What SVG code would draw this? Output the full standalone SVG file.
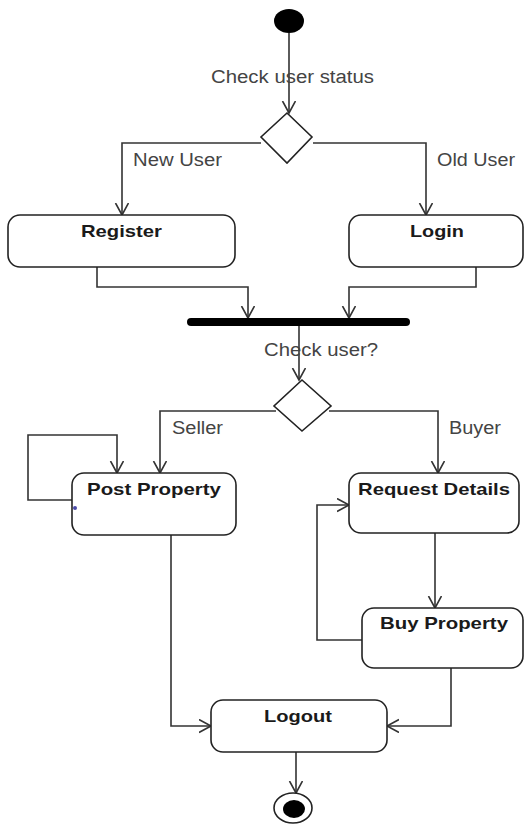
<svg xmlns="http://www.w3.org/2000/svg" width="528" height="825" viewBox="0 0 528 825">
<style>
.box{fill:#fff;stroke:#222;stroke-width:1.6}
.ln{fill:none;stroke:#333;stroke-width:1.6}
.lbl{font-family:"Liberation Sans",Arial,sans-serif;font-size:18px;fill:#444}
.nm{font-family:"Liberation Sans",Arial,sans-serif;font-size:17px;font-weight:bold;fill:#1a1a1a}
</style>
<defs>
<marker id="arr" markerUnits="userSpaceOnUse" markerWidth="16" markerHeight="16" refX="12" refY="7" orient="auto">
<path d="M0,0.5 L12,7 L0,13.5" fill="none" stroke="#333" stroke-width="1.6"/>
</marker>
</defs>
<rect width="528" height="825" fill="#fff"/>
<g id="connectors">
<path class="ln" d="M289,33 V113" marker-end="url(#arr)"/>
<path class="ln" d="M261,143 H122 V215" marker-end="url(#arr)"/>
<path class="ln" d="M313,143 H426 V215" marker-end="url(#arr)"/>
<path class="ln" d="M97,267 V287 H248 V318" marker-end="url(#arr)"/>
<path class="ln" d="M476,267 V287 H349 V318" marker-end="url(#arr)"/>
<path class="ln" d="M299,326 V380" marker-end="url(#arr)"/>
<path class="ln" d="M276,411 H160 V473" marker-end="url(#arr)"/>
<path class="ln" d="M329,411 H438 V473" marker-end="url(#arr)"/>
<path class="ln" d="M72,500 H28 V435 H117 V473" marker-end="url(#arr)"/>
<path class="ln" d="M435,533 V608" marker-end="url(#arr)"/>
<path class="ln" d="M362,640 H317 V505 H349" marker-end="url(#arr)"/>
<path class="ln" d="M171,535 V726 H211" marker-end="url(#arr)"/>
<path class="ln" d="M451,668 V726 H387" marker-end="url(#arr)"/>
<path class="ln" d="M296,752 V793" marker-end="url(#arr)"/>
</g>
<g id="labels">
<text class="lbl" x="211" y="83" textLength="163" lengthAdjust="spacingAndGlyphs">Check user status</text>
<text class="lbl" x="133" y="166" textLength="89" lengthAdjust="spacingAndGlyphs">New User</text>
<text class="lbl" x="437" y="166" textLength="78" lengthAdjust="spacingAndGlyphs">Old User</text>
<text class="lbl" x="264" y="356" textLength="114" lengthAdjust="spacingAndGlyphs">Check user?</text>
<text class="lbl" x="172" y="434" textLength="51" lengthAdjust="spacingAndGlyphs">Seller</text>
<text class="lbl" x="449" y="434" textLength="52" lengthAdjust="spacingAndGlyphs">Buyer</text>
</g>
<g id="start">
<ellipse cx="289" cy="21" rx="15" ry="12" fill="#000"/>
</g>
<g id="decision1">
<path d="M287,113 L312,137 L287,163 L261,137 Z" class="box"/>
</g>
<g id="register">
<rect class="box" x="8" y="215" width="227" height="52" rx="12"/>
<text class="nm" x="81" y="237" textLength="81" lengthAdjust="spacingAndGlyphs">Register</text>
</g>
<g id="login">
<rect class="box" x="349" y="215" width="174" height="52" rx="12"/>
<text class="nm" x="410" y="237" textLength="54" lengthAdjust="spacingAndGlyphs">Login</text>
</g>
<g id="join">
<rect x="187" y="318" width="223" height="8" rx="4" fill="#000"/>
</g>
<g id="decision2">
<path d="M302,380 L331,406 L302,431 L274,406 Z" class="box"/>
</g>
<g id="post-property">
<rect class="box" x="72" y="473" width="164" height="62" rx="12"/>
<text class="nm" x="87" y="495" textLength="134" lengthAdjust="spacingAndGlyphs">Post Property</text>
<circle cx="75" cy="508" r="2" fill="#4a4aa8"/>
</g>
<g id="request-details">
<rect class="box" x="349" y="473" width="170" height="60" rx="12"/>
<text class="nm" x="358" y="495" textLength="152" lengthAdjust="spacingAndGlyphs">Request Details</text>
</g>
<g id="buy-property">
<rect class="box" x="362" y="608" width="161" height="60" rx="12"/>
<text class="nm" x="380" y="629" textLength="128" lengthAdjust="spacingAndGlyphs">Buy Property</text>
</g>
<g id="logout">
<rect class="box" x="211" y="700" width="176" height="52" rx="12"/>
<text class="nm" x="264" y="722" textLength="68" lengthAdjust="spacingAndGlyphs">Logout</text>
</g>
<g id="end">
<ellipse cx="293" cy="808" rx="19" ry="15" fill="#fff" stroke="#222" stroke-width="1.6"/>
<ellipse cx="294" cy="809" rx="11" ry="9" fill="#000"/>
</g>
</svg>
